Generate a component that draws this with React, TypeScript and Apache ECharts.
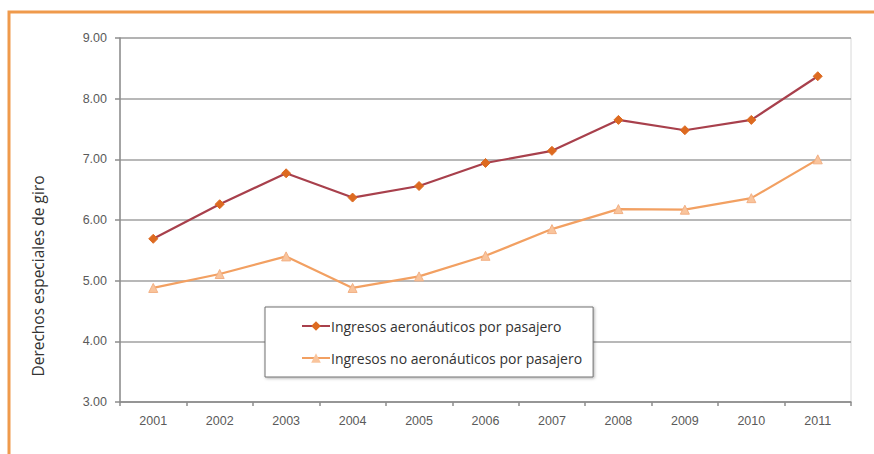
import React, { useEffect, useRef } from "react";
import * as echarts from "echarts";

const years = ["2001", "2002", "2003", "2004", "2005", "2006", "2007", "2008", "2009", "2010", "2011"];
const aeronauticos = [5.69, 6.26, 6.77, 6.37, 6.56, 6.94, 7.14, 7.65, 7.48, 7.65, 8.37];
const noAeronauticos = [4.88, 5.11, 5.40, 4.88, 5.07, 5.41, 5.85, 6.18, 6.17, 6.36, 7.0];
const seriesNames = ["Ingresos aeronáuticos por pasajero", "Ingresos no aeronáuticos por pasajero"];
const yAxisTitle = "Derechos especiales de giro";

export default function App() {
  const ref = useRef<HTMLDivElement>(null);
  useEffect(() => {
    if (!ref.current) return;
    const chart = echarts.init(ref.current, null, { renderer: "svg" });
    chart.setOption({
      animation: false,
      backgroundColor: "#ffffff",
      grid: {
        left: 120,
        right: 23,
        top: 38,
        bottom: 52,
        show: true,
        borderColor: "#d8d8d8",
        borderWidth: 1,
      },
      xAxis: {
        type: "category",
        data: years,
        boundaryGap: true,
        axisLine: { lineStyle: { color: "#8c8c8c", width: 1.5 } },
        axisTick: { show: true, length: 4, lineStyle: { color: "#8c8c8c", width: 1.5 } },
        axisLabel: { color: "#5a5a5a", fontSize: 12.5, fontFamily: "Liberation Sans", margin: 12 },
      },
      yAxis: {
        type: "value",
        min: 3,
        max: 9,
        interval: 1,
        axisLine: { show: true, lineStyle: { color: "#8c8c8c", width: 1.5 } },
        axisTick: { show: true, length: 5, lineStyle: { color: "#8c8c8c", width: 1.5 } },
        axisLabel: {
          color: "#5a5a5a",
          fontSize: 12.5,
          fontFamily: "Liberation Sans",
          margin: 13,
          formatter: (v: number) => v.toFixed(2),
        },
        splitLine: { lineStyle: { color: "#a0a0a0", width: 1.5 } },
      },
      legend: {
        orient: "vertical",
        left: 265,
        top: 307,
        backgroundColor: "#ffffff",
        borderColor: "#707070",
        borderWidth: 1,
        padding: [12, 11, 12, 36],
        itemGap: 18,
        itemWidth: 28,
        itemHeight: 12,
        shadowColor: "rgba(0,0,0,0.3)",
        shadowBlur: 3,
        shadowOffsetX: 1,
        shadowOffsetY: 1,
        textStyle: { color: "#333333", fontSize: 14, fontFamily: "Open Sans", padding: [0, 0, 0, -4] },
        data: seriesNames,
      },
      series: [
        {
          name: seriesNames[0],
          type: "line",
          data: aeronauticos,
          symbol: "diamond",
          symbolSize: 9,
          lineStyle: { color: "#a8404c", width: 2.2 },
          itemStyle: { color: "#dd6a20", borderColor: "#dd6a20" },
          z: 3,
        },
        {
          name: seriesNames[1],
          type: "line",
          data: noAeronauticos,
          symbol: "triangle",
          symbolSize: 9,
          lineStyle: { color: "#f2a062", width: 2.2 },
          itemStyle: { color: "#f9c49c", borderColor: "#f2b084" },
          z: 2,
        },
      ],
      graphic: [
        {
          type: "rect",
          shape: { x: 9, y: 12, width: 900, height: 500 },
          style: { fill: "none", stroke: "#ef9a4c", lineWidth: 3 },
          silent: true,
        },
        {
          type: "text",
          x: 38,
          y: 276,
          rotation: Math.PI / 2,
          style: {
            text: yAxisTitle,
            fontSize: 15.5,
            fontFamily: "Open Sans",
            fill: "#333333",
            textAlign: "center",
            textVerticalAlign: "middle",
          },
        },
      ],
    });
    return () => chart.dispose();
  }, []);
  return (
    <div
      ref={ref}
      style={{ position: "fixed", left: 0, top: 0, width: 874, height: 454 }}
    />
  );
}
